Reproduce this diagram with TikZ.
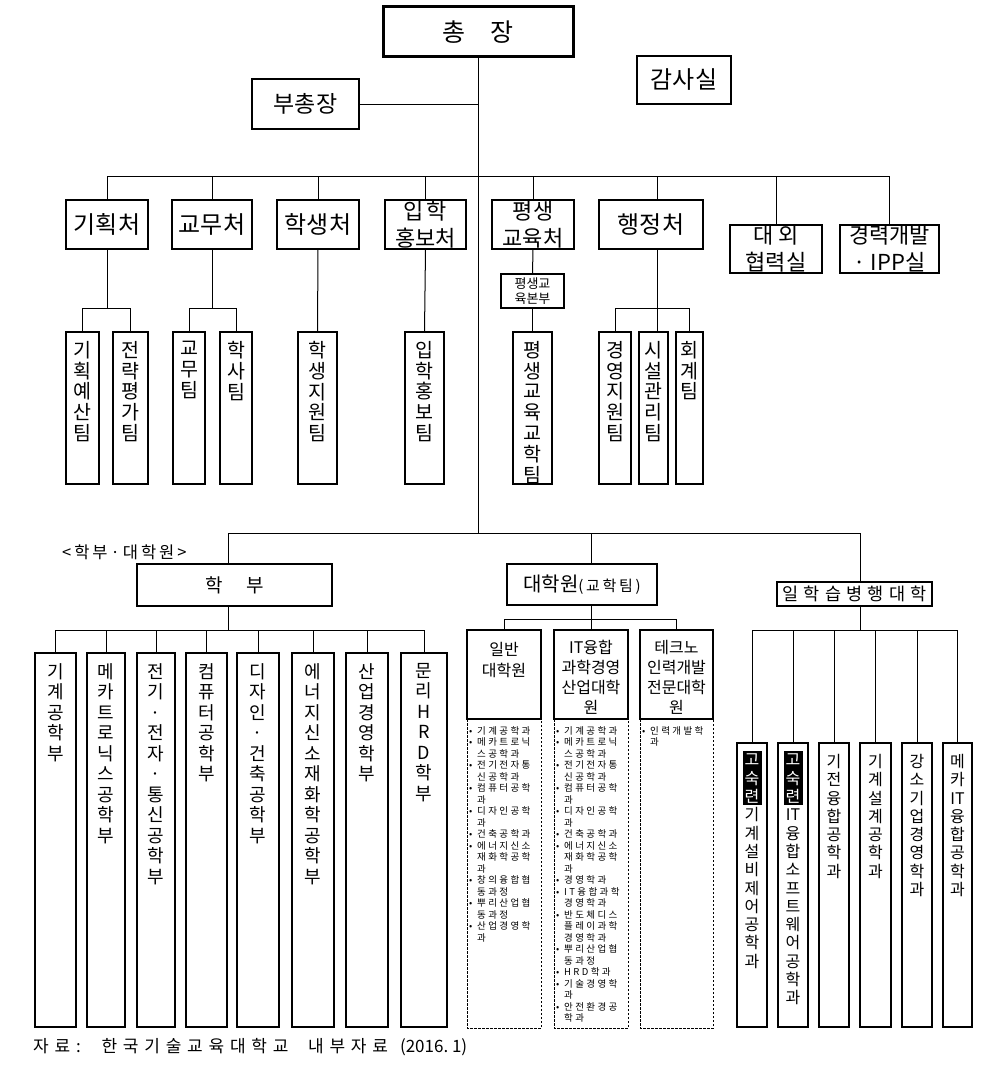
\documentclass[tikz,border=0pt]{standalone}
\usepackage{fontspec}
\setmainfont{Noto Sans CJK KR}
\newfontfamily\lsa[LetterSpace=30]{Noto Sans CJK KR}
\newfontfamily\lsb[LetterSpace=25]{Noto Sans CJK KR}
\newfontfamily\lsc[LetterSpace=34]{Noto Sans CJK KR}
\newfontfamily\lsd[LetterSpace=18]{Noto Sans CJK KR}
\newcommand\bx[7]{\node[#6,minimum width={#4-#2},minimum height={#5-#3}] (#1) at ({(#2+#4)/2},{(#3+#5)/2}) {#7};}
\newcommand\bl{\makebox[8pt][l]{•}}
\newcommand\ii{\hspace*{8pt}}
\newcommand\wh[1]{\textcolor{white}{#1}}
\begin{document}
\begin{tikzpicture}[x=1pt,y=-1pt,
 conn/.style={line width=1pt},
 bxbase/.style={draw, inner sep=0pt, outer sep=0pt, align=center},
 topbox/.style={bxbase, line width=3pt},
 midbox/.style={bxbase, line width=1.8pt},
 teambox/.style={bxbase, line width=1.4pt},
 bigbox/.style={bxbase, line width=2.6pt},
 deptbox/.style={bxbase, line width=2.2pt},
 dashbox/.style={line width=0.9pt, dash pattern=on 2.5pt off 1.5pt},
 vt/.style={anchor=north, align=center, inner sep=0pt},
 vteam/.style={vt, font=\fontsize{19.5}{20.8}\selectfont},
 vdept/.style={vt, font=\fontsize{18}{20.5}\selectfont},
 vil/.style={vt, font=\fontsize{16}{18.3}\selectfont},
 listtxt/.style={anchor=north west, align=left, inner sep=0pt, font=\lsb\fontsize{9.5}{11.5}\selectfont},
]
\useasboundingbox (0,0) rectangle (1008,1065);

% ---------- top level
\bx{chong}{383}{7}{573}{57}{topbox,font=\fontsize{25}{25}\selectfont}{총\quad 장}
\bx{gamsa}{637}{56}{731}{104}{midbox,font=\fontsize{24}{24}\selectfont}{감사실}
\bx{bu}{252}{79}{359}{129}{midbox,font=\fontsize{23}{23}\selectfont}{부총장}

\coordinate (j0) at (478,104);
\coordinate (j1) at (478,176);
\coordinate (j2) at (478,533);
\coordinate (lv2) at (0,308);
\coordinate (lv4) at (0,630);
\coordinate (lv5) at (0,619);
\coordinate (lvb) at (0,1028);

\draw[conn] (chong.south) -- (j2);
\draw[conn] (bu.east) -- (j0);

% ---------- offices
\bx{gh}{66}{200}{148}{249}{midbox,font=\fontsize{24}{24}\selectfont}{기획처}
\bx{gm}{172}{200}{252}{249}{midbox,font=\fontsize{24}{24}\selectfont}{교무처}
\bx{hs}{277}{200}{359}{249}{midbox,font=\fontsize{24}{24}\selectfont}{학생처}
\bx{ih}{385}{200}{466}{249}{midbox,font=\fontsize{22}{27}\selectfont}{입\hspace{3pt}학\\홍보처}
\bx{ps}{492}{200}{574}{249}{midbox,font=\fontsize{22}{27}\selectfont}{평생\\교육처}
\bx{hj}{599}{200}{703}{249}{midbox,font=\fontsize{24}{24}\selectfont}{행정처}
\bx{dw}{730}{225}{822}{273}{midbox,font=\fontsize{22}{27}\selectfont}{대\hspace{5pt}외\\협력실}
\bx{gr}{840}{225}{939}{273}{midbox,font=\fontsize{22}{27}\selectfont}{경력개발\\· IPP실}

\coordinate (hjx) at (657,176);
\draw[conn] (gh.north |- j1) -- (gr.north |- j1);
\foreach \n in {gh,gm,hs,ih,ps,dw,gr}{\draw[conn] (\n.north) -- (\n.north |- j1);}
\draw[conn] (hjx) -- (hjx |- hj.north);

% ---------- teams
\bx{t1}{66}{332}{99}{484}{teambox}{}
\bx{t2}{113}{332}{148}{484}{teambox}{}
\bx{t3}{173}{332}{205}{484}{teambox}{}
\bx{t4}{220}{332}{252}{484}{teambox}{}
\bx{t5}{298}{332}{337}{484}{teambox}{}
\bx{t6}{405}{332}{444}{484}{teambox}{}
\bx{t7}{513}{332}{552}{484}{teambox}{}
\bx{t8}{599}{332}{631}{484}{teambox}{}
\bx{t9}{639}{332}{668}{484}{teambox}{}
\bx{t10}{676}{332}{703}{484}{teambox}{}
\bx{pb}{501}{274}{564}{308}{teambox,font=\fontsize{13}{15}\selectfont}{평생교\\육본부}

\node[vteam] (t1x) at ([yshift=-9pt]t1.north) {기\\획\\예\\산\\팀};
\node[vteam] (t2x) at ([yshift=-9pt]t2.north) {전\\략\\평\\가\\팀};
\node[vteam] (t3x) at ([yshift=-9pt]t3.north) {교\\무\\팀};
\node[vteam] (t4x) at ([yshift=-9pt]t4.north) {학\\사\\팀};
\node[vteam] (t5x) at ([yshift=-9pt]t5.north) {학\\생\\지\\원\\팀};
\node[vteam] (t6x) at ([yshift=-9pt]t6.north) {입\\학\\홍\\보\\팀};
\node[vteam] (t7x) at ([yshift=-9pt]t7.north) {평\\생\\교\\육\\교\\학\\팀};
\node[vteam] (t8x) at ([yshift=-9pt]t8.north) {경\\영\\지\\원\\팀};
\node[vteam] (t9x) at ([yshift=-9pt]t9.north) {시\\설\\관\\리\\팀};
\node[vteam] (t10x) at ([yshift=-9pt]t10.north) {회\\계\\팀};

\draw[conn] (gh.south) -- (gh.south |- lv2);
\draw[conn] (t1.north) -- (t1.north |- lv2) -- (t2.north |- lv2) -- (t2.north);
\draw[conn] (gm.south) -- (gm.south |- lv2);
\draw[conn] (t3.north) -- (t3.north |- lv2) -- (t4.north |- lv2) -- (t4.north);
\draw[conn] (hs.south) -- (t5.north);
\draw[conn] (ih.south) -- (t6.north);
\draw[conn] (ps.south) -- (pb.north);
\draw[conn] (pb.south) -- (t7.north);
\draw[conn] (hjx |- hj.south) -- (hjx |- t9.north);
\draw[conn] (t8.north) -- (t8.north |- lv2) -- (t10.north |- lv2) -- (t10.north);

% ---------- lower part
\coordinate (hbx) at (228,533);
\coordinate (dhx) at (591,533);
\coordinate (ilx) at (860,533);
\draw[conn] (hbx) -- (ilx);

\node[anchor=west, inner sep=0pt, font=\lsd\fontsize{16.5}{16.5}\selectfont] (lbl) at (62,552) {<학부·대학원>};

\bx{hb}{137}{564}{332}{606}{bigbox,font=\fontsize{19}{19}\selectfont}{학\hspace{24pt}부}
\bx{dh}{507}{564}{657}{605}{bigbox}{\fontsize{20}{20}\selectfont 대학원{\lsd\fontsize{15}{15}\selectfont(교학팀)}}
\bx{il}{777}{582}{932}{606}{bigbox,font=\lsa\fontsize{17.5}{17.5}\selectfont}{일학습병행대학}

\draw[conn] (hbx) -- (hbx |- hb.north);
\draw[conn] (dhx) -- (dhx |- dh.north);
\draw[conn] (ilx) -- (ilx |- il.north);

% departments
\bx{d1}{35}{653}{76}{1027}{deptbox}{}
\bx{d2}{87}{653}{125}{1027}{deptbox}{}
\bx{d3}{137}{653}{175}{1027}{deptbox}{}
\bx{d4}{186}{653}{227}{1027}{deptbox}{}
\bx{d5}{237}{653}{279}{1027}{deptbox}{}
\bx{d6}{292}{653}{334}{1027}{deptbox}{}
\bx{d7}{346}{653}{388}{1027}{deptbox}{}
\bx{d8}{401}{653}{447}{1027}{deptbox}{}
\node[vdept] (d1x) at ([yshift=-10pt]d1.north) {기\\계\\공\\학\\부};
\node[vdept] (d2x) at ([yshift=-10pt]d2.north) {메\\카\\트\\로\\닉\\스\\공\\학\\부};
\node[vdept] (d3x) at ([yshift=-10pt]d3.north) {전\\기\\·\\전\\자\\·\\통\\신\\공\\학\\부};
\node[vdept] (d4x) at ([yshift=-10pt]d4.north) {컴\\퓨\\터\\공\\학\\부};
\node[vdept] (d5x) at ([yshift=-10pt]d5.north) {디\\자\\인\\·\\건\\축\\공\\학\\부};
\node[vdept] (d6x) at ([yshift=-10pt]d6.north) {에\\너\\지\\신\\소\\재\\화\\학\\공\\학\\부};
\node[vdept] (d7x) at ([yshift=-10pt]d7.north) {산\\업\\경\\영\\학\\부};
\node[vdept] (d8x) at ([yshift=-10pt]d8.north) {문\\리\\H\\R\\D\\학\\부};
\draw[conn] (hbx |- hb.south) -- (hbx |- lv4);
\draw[conn] (d1.north |- lv4) -- (d8.north |- lv4);
\foreach \n in {d1,d2,d3,d4,d5,d6,d7,d8}{\draw[conn] (\n.north) -- (\n.north |- lv4);}

% graduate schools
\bx{g1}{467}{630}{541}{719}{deptbox}{}
\bx{g2}{554}{630}{628}{719}{deptbox}{}
\bx{g3}{640}{630}{713}{719}{deptbox}{}
\node[vt, font=\fontsize{16}{21}\selectfont] (g1x) at ([yshift=-12pt]g1.north) {일반\\대학원};
\node[vt, font=\fontsize{16}{20}\selectfont] (g2x) at ([yshift=-10pt]g2.north) {IT융합\\과학경영\\산업대학\\원};
\node[vt, font=\fontsize{16}{20}\selectfont] (g3x) at ([yshift=-10pt]g3.north) {테크노\\인력개발\\전문대학\\원};
\draw[conn] (dhx |- dh.south) -- (dhx |- lv5);
\draw[conn] (g1.north |- lv5) -- (g3.north |- lv5);
\foreach \n in {g1,g2,g3}{\draw[conn] (\n.north) -- (\n.north |- lv5);}
\foreach \n in {g1,g2,g3}{\draw[dashbox] (\n.south west) -- (\n.south west |- lvb) -- (\n.south east |- lvb) -- (\n.south east);}

\node[listtxt] (l1) at ([xshift=2pt,yshift=-7pt]g1.south west) {\bl 기계공학과\\\bl 메카트로닉\\\ii 스공학과\\\bl 전기전자통\\\ii 신공학과\\\bl 컴퓨터공학\\\ii 과\\\bl 디자인공학\\\ii 과\\\bl 건축공학과\\\bl 에너지신소\\\ii 재화학공학\\\ii 과\\\bl 창의융합협\\\ii 동과정\\\bl 뿌리산업협\\\ii 동과정\\\bl 산업경영학\\\ii 과};
\node[listtxt] (l2) at ([xshift=2pt,yshift=-7pt]g2.south west) {\bl 기계공학과\\\bl 메카트로닉\\\ii 스공학과\\\bl 전기전자통\\\ii 신공학과\\\bl 컴퓨터공학\\\ii 과\\\bl 디자인공학\\\ii 과\\\bl 건축공학과\\\bl 에너지신소\\\ii 재화학공학\\\ii 과\\\bl 경영학과\\\bl IT융합과학\\\ii 경영학과\\\bl 반도체디스\\\ii 플레이과학\\\ii 경영학과\\\bl 뿌리산업협\\\ii 동과정\\\bl HRD학과\\\bl 기술경영학\\\ii 과\\\bl 안전환경공\\\ii 학과};
\node[listtxt] (l3) at ([xshift=2pt,yshift=-7pt]g3.south west) {\bl 인력개발학\\\ii 과};

% work-study college
\bx{i1}{737}{743}{767}{1027}{teambox}{}
\bx{i2}{778}{743}{808}{1027}{teambox}{}
\bx{i3}{819}{743}{849}{1027}{teambox}{}
\bx{i4}{860}{743}{891}{1027}{teambox}{}
\bx{i5}{902}{743}{932}{1027}{teambox}{}
\bx{i6}{943}{743}{972}{1027}{teambox}{}
\fill[black] ([xshift=-9.5pt,yshift=-8pt]i1.north) rectangle ([xshift=9.5pt,yshift=-62pt]i1.north);
\fill[black] ([xshift=-9.5pt,yshift=-8pt]i2.north) rectangle ([xshift=9.5pt,yshift=-62pt]i2.north);
\node[vil] (i1x) at ([yshift=-11pt]i1.north) {\wh{고}\\\wh{숙}\\\wh{련}\\기\\계\\설\\비\\제\\어\\공\\학\\과};
\node[vil] (i2x) at ([yshift=-11pt]i2.north) {\wh{고}\\\wh{숙}\\\wh{련}\\IT\\융\\합\\소\\프\\트\\웨\\어\\공\\학\\과};
\node[vil] (i3x) at ([yshift=-11pt]i3.north) {기\\전\\융\\합\\공\\학\\과};
\node[vil] (i4x) at ([yshift=-11pt]i4.north) {기\\계\\설\\계\\공\\학\\과};
\node[vil] (i5x) at ([yshift=-11pt]i5.north) {강\\소\\기\\업\\경\\영\\학\\과};
\node[vil] (i6x) at ([yshift=-11pt]i6.north) {메\\카\\IT\\융\\합\\공\\학\\과};
\draw[conn] (ilx |- il.south) -- (ilx |- lv4);
\draw[conn] (i1.north |- lv4) -- (i6.north |- lv4);
\foreach \n in {i1,i2,i3,i4,i5,i6}{\draw[conn] (\n.north) -- (\n.north |- lv4);}

% caption
\node[anchor=west, inner sep=0pt, font=\fontsize{17}{17}\selectfont] (cap) at (33,1047) {{\lsc 자료:\hspace{8pt} 한국기술교육대학교\hspace{10pt} 내부자료}\hspace{12pt}(2016.\ 1)};
\end{tikzpicture}
\end{document}
